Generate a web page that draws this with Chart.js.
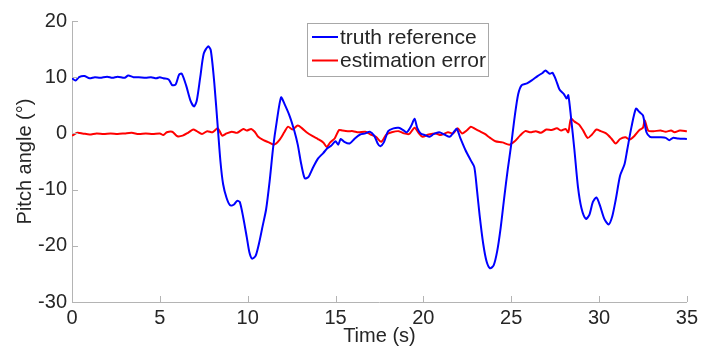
<!DOCTYPE html>
<html>
<head>
<meta charset="utf-8">
<title>Pitch angle</title>
<script src="https://cdn.jsdelivr.net/npm/chart.js@4/dist/chart.umd.min.js"></script>
<style>
    html, body { margin: 0; padding: 0; background: #fff; }
    canvas { display: block; }
</style>
</head>
<body>
<canvas id="pitchChart" width="702" height="349"></canvas>
<script>
// truth reference (deg) over time (s)
const truthTime = [0, 0.2, 0.4, 0.7, 1.0, 1.3, 1.6, 2.0, 2.3, 2.6, 3.0, 3.2, 3.5, 3.8, 4.2, 4.5, 4.8, 5.0, 5.2, 5.5,
    5.7, 5.9, 6.1, 6.25, 6.5, 6.75, 6.95, 7.1, 7.3, 7.5, 7.75, 7.9, 8.1, 8.3, 8.45, 8.6, 8.8, 9.0, 9.2, 9.4,
    9.55, 9.75, 9.95, 10.1, 10.25, 10.45, 10.65, 10.85, 11.05, 11.25, 11.45, 11.65, 11.9, 12.1, 12.4, 12.65, 12.85, 13.05, 13.25, 13.45,
    13.7, 14.0, 14.3, 14.55, 14.75, 15.0, 15.15, 15.3, 15.5, 15.8, 16.1, 16.4, 16.7, 16.95, 17.2, 17.4, 17.55, 17.75, 18.0, 18.3,
    18.6, 18.85, 19.05, 19.3, 19.5, 19.65, 19.85, 20.1, 20.35, 20.6, 20.9, 21.2, 21.5, 21.7, 21.9, 22.1, 22.4, 22.7, 22.9, 23.05,
    23.2, 23.4, 23.6, 23.8, 24.0, 24.2, 24.4, 24.6, 24.8, 25.0, 25.2, 25.4, 25.6, 25.9, 26.2, 26.5, 26.8, 26.95, 27.2, 27.35,
    27.55, 27.75, 28.0, 28.15, 28.25, 28.4, 28.6, 28.8, 29.0, 29.25, 29.45, 29.65, 29.85, 30.05, 30.3, 30.55, 30.75, 30.95, 31.2, 31.45,
    31.6, 31.85, 32.1, 32.3, 32.5, 32.7, 32.9, 33.2, 33.5, 33.8, 34.0, 34.2, 34.5, 35.0];
const truthValues = [9.8, 9.4, 10.0, 10.2, 9.8, 10.0, 9.9, 10.1, 9.9, 10.1, 9.9, 10.3, 10.0, 10.0, 9.9, 10.0, 9.8, 10.0, 9.8, 9.6,
    8.6, 8.7, 10.5, 10.6, 8.5, 5.8, 4.8, 5.8, 10.0, 14.2, 15.5, 14.8, 9.0, 1.0, -5.0, -9.0, -11.5, -12.8, -12.7, -12.0,
    -12.2, -15.0, -18.5, -21.2, -22.3, -21.8, -19.5, -16.5, -13.5, -8.5, -2.5, 2.0, 6.4, 5.2, 3.0, 0.5, -2.0, -5.5, -8.0, -7.8,
    -6.2, -4.5, -3.5, -2.6, -2.2, -1.4, -2.0, -1.0, -1.5, -1.8, -0.9, -0.2, 0.0, 0.3, -0.4, -1.8, -2.3, -1.6, 0.4, 0.9,
    1.0, 0.6, 0.2, 1.3, 2.6, 1.0, 0.0, -0.3, -0.6, -0.1, 0.2, -0.2, -0.6, 0.1, 0.8, -0.8, -3.0, -4.8, -6.0, -10.0,
    -14.5, -19.5, -22.8, -24.0, -23.5, -21.0, -16.8, -11.5, -6.5, -2.0, 3.0, 7.0, 8.6, 8.9, 9.5, 10.2, 10.8, 11.2, 10.6, 10.8,
    9.5, 7.8, 7.0, 6.2, 6.8, 3.0, -3.0, -9.5, -13.3, -15.2, -14.5, -12.2, -11.4, -12.8, -15.2, -16.2, -14.8, -11.8, -7.5, -5.5,
    -3.0, 1.2, 4.4, 3.8, 3.2, 0.2, -0.6, -0.7, -0.7, -0.8, -1.2, -0.8, -0.9, -1.0];

// estimation error (deg) over time (s)
const errorTime = [0, 0.3, 0.6, 1.0, 1.4, 1.8, 2.2, 2.6, 3.0, 3.4, 3.8, 4.2, 4.6, 5.0, 5.2, 5.4, 5.7, 6.0, 6.3, 6.6,
    6.9, 7.1, 7.4, 7.7, 8.0, 8.3, 8.55, 8.8, 9.1, 9.4, 9.75, 9.95, 10.2, 10.4, 10.6, 10.9, 11.2, 11.5, 11.8, 12.1,
    12.3, 12.55, 12.85, 13.1, 13.35, 13.7, 14.0, 14.3, 14.5, 14.7, 14.95, 15.2, 15.4, 15.7, 16.0, 16.3, 16.7, 17.0, 17.3, 17.6,
    17.9, 18.2, 18.6, 18.9, 19.2, 19.5, 19.75, 19.95, 20.3, 20.7, 21.0, 21.4, 21.7, 21.95, 22.2, 22.5, 22.7, 22.95, 23.2, 23.5,
    23.8, 24.1, 24.5, 24.9, 25.2, 25.5, 25.8, 26.1, 26.4, 26.7, 27.0, 27.3, 27.6, 27.85, 28.1, 28.25, 28.4, 28.6, 28.85, 29.1,
    29.35, 29.6, 29.85, 30.1, 30.4, 30.7, 30.95, 31.2, 31.5, 31.75, 32.0, 32.3, 32.5, 32.6, 32.8, 33.1, 33.5, 33.8, 34.1, 34.3,
    34.6, 35.0];
const errorValues = [-0.4, 0.1, 0.0, -0.2, 0.0, -0.1, 0.0, -0.1, 0.0, 0.1, -0.1, 0.0, -0.1, 0.0, -0.3, 0.2, 0.3, -0.5, -0.4, 0.1,
    0.7, 0.4, -0.1, 0.4, 0.2, 0.9, -0.4, 0.0, 0.3, 0.1, 0.8, 0.5, 0.8, 0.3, -0.6, -1.2, -1.6, -2.0, -1.2, 0.3,
    1.2, 0.7, 1.4, 0.9, 0.2, -0.5, -1.0, -1.6, -2.4, -1.6, -0.9, 0.6, 0.5, 0.4, 0.4, 0.2, 0.3, -0.2, -0.6, -1.5,
    -0.2, 0.2, 0.4, 0.0, -0.1, 1.0, 0.0, -0.6, -0.2, 0.0, -0.3, 0.2, 0.0, 0.9, 0.0, 0.6, 1.2, 0.8, 0.4, -0.1,
    -0.8, -1.4, -1.6, -2.0, -1.4, -0.4, 0.4, 0.2, 0.4, 0.1, 0.7, 0.6, 0.9, 0.5, 0.8, 0.2, 2.6, 2.1, 1.6, 0.5,
    -0.8, -0.2, 0.7, 0.4, 0.0, -0.9, -1.8, -1.0, -0.7, -1.1, -0.5, 0.6, 1.0, 2.3, 0.5, 0.4, 0.5, 0.3, 0.5, 0.2,
    0.5, 0.4];

const seriesLabels = ['truth reference', 'estimation error'];
const xTicks = [0, 5, 10, 15, 20, 25, 30, 35];
const yTicks = [-30, -20, -10, 0, 10, 20];

const axisGray = '#b4b4b4';
const textColor = '#262626';
const fontFamily = '"Liberation Sans", Arial, sans-serif';

function toPoints(xs, ys) {
    return xs.map((x, i) => ({ x: x, y: ys[i] }));
}

// inward tick marks like the original figure
const innerTicks = {
    id: 'innerTicks',
    afterDraw(chart) {
        const { ctx, chartArea, scales } = chart;
        ctx.save();
        ctx.strokeStyle = axisGray;
        ctx.lineWidth = 1;
        ctx.beginPath();
        xTicks.forEach(v => {
            if (v === xTicks[0]) return;
            const px = Math.round(scales.x.getPixelForValue(v)) + 0.5;
            ctx.moveTo(px, chartArea.bottom);
            ctx.lineTo(px, chartArea.bottom - 6);
        });
        yTicks.forEach(v => {
            if (v === yTicks[0]) return;
            const py = Math.round(scales.y.getPixelForValue(v)) + 0.5;
            ctx.moveTo(chartArea.left, py);
            ctx.lineTo(chartArea.left + 6, py);
        });
        ctx.stroke();
        ctx.restore();
    }
};

// legend box inside the plot area
const boxLegend = {
    id: 'boxLegend',
    afterDraw(chart) {
        const ctx = chart.ctx;
        const left = 307.5, top = 23.5, w = 181, h = 53;
        ctx.save();
        ctx.fillStyle = '#fff';
        ctx.fillRect(left, top, w, h);
        ctx.strokeStyle = '#a8a8a8';
        ctx.lineWidth = 1;
        ctx.strokeRect(left, top, w, h);
        ctx.font = '21px ' + fontFamily;
        ctx.textBaseline = 'middle';
        chart.data.datasets.forEach((ds, i) => {
            const y = 37 + i * 23.5;
            ctx.strokeStyle = ds.borderColor;
            ctx.lineWidth = 2;
            ctx.beginPath();
            ctx.moveTo(312, y);
            ctx.lineTo(338, y);
            ctx.stroke();
            ctx.fillStyle = textColor;
            ctx.fillText(ds.label, 340, y + 1);
        });
        ctx.restore();
    }
};

new Chart(document.getElementById('pitchChart').getContext('2d'), {
    type: 'line',
    data: {
        datasets: [
            {
                label: seriesLabels[0],
                data: toPoints(truthTime, truthValues),
                borderColor: '#0000ff',
                borderWidth: 2,
                pointRadius: 0,
                tension: 0.25,
                fill: false
            },
            {
                label: seriesLabels[1],
                data: toPoints(errorTime, errorValues),
                borderColor: '#ff0000',
                borderWidth: 2,
                pointRadius: 0,
                tension: 0.25,
                fill: false
            }
        ]
    },
    options: {
        responsive: false,
        animation: false,
        devicePixelRatio: 1,
        layout: { padding: { top: 21, right: 14, bottom: 0, left: 0 } },
        plugins: {
            legend: { display: false },
            tooltip: { enabled: false }
        },
        scales: {
            x: {
                type: 'linear',
                min: 0,
                max: 35,
                afterBuildTicks: scale => { scale.ticks = xTicks.map(v => ({ value: v })); },
                afterFit: scale => { scale.height = 47; },
                grid: { display: false, drawTicks: false },
                border: { display: true, color: axisGray, width: 1 },
                ticks: {
                    color: textColor,
                    padding: 4,
                    maxRotation: 0,
                    font: { family: fontFamily, size: 20 }
                },
                title: {
                    display: true,
                    text: 'Time (s)',
                    color: textColor,
                    font: { family: fontFamily, size: 20 },
                    padding: { top: 0, bottom: 1 }
                }
            },
            y: {
                min: -30,
                max: 20,
                afterBuildTicks: scale => { scale.ticks = yTicks.map(v => ({ value: v })); },
                afterFit: scale => { scale.width = 72; },
                grid: { display: false, drawTicks: false },
                border: { display: true, color: axisGray, width: 1 },
                ticks: {
                    color: textColor,
                    padding: 5,
                    font: { family: fontFamily, size: 20 }
                },
                title: {
                    display: true,
                    text: 'Pitch angle (°)',
                    color: textColor,
                    font: { family: fontFamily, size: 20 },
                    padding: { top: 13, bottom: 0 }
                }
            }
        }
    },
    plugins: [innerTicks, boxLegend]
});
</script>
</body>
</html>
